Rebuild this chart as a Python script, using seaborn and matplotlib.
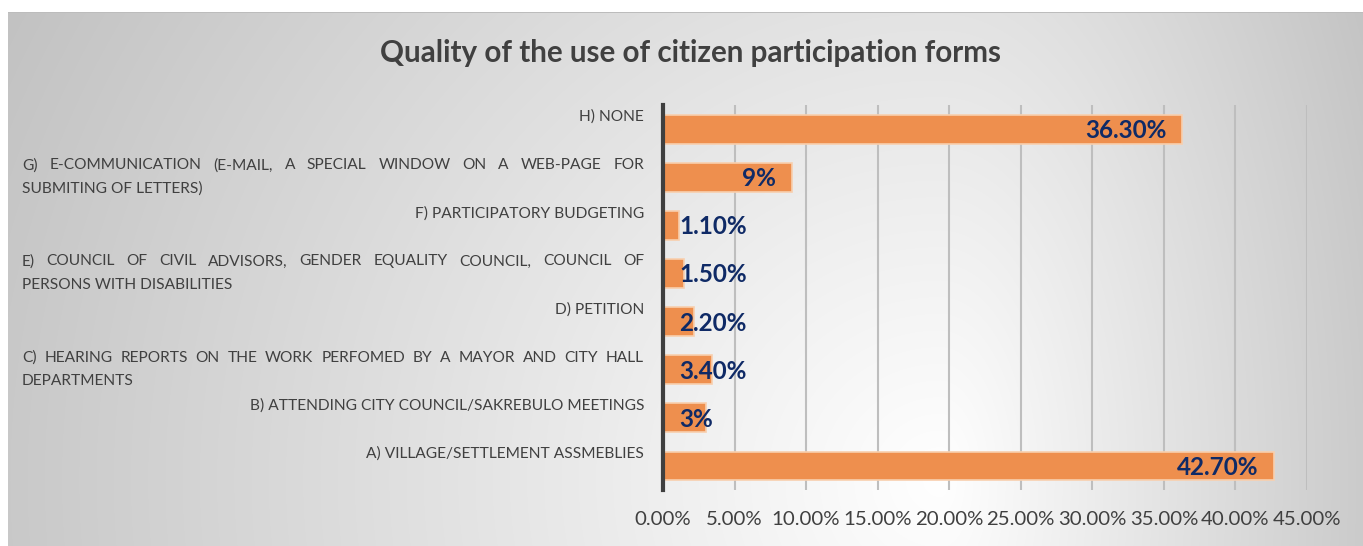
import numpy as np
import pandas as pd
import matplotlib
matplotlib.use("Agg")
import matplotlib.pyplot as plt
import matplotlib.transforms as mtransforms
import seaborn as sns

# ---- data -----------------------------------------------------------------
categories = [
    "A) VILLAGE/SETTLEMENT ASSMEBLIES",
    "B) ATTENDING CITY COUNCIL/SAKREBULO MEETINGS",
    "C) HEARING REPORTS ON THE WORK PERFOMED BY A MAYOR AND CITY HALL\nDEPARTMENTS",
    "D) PETITION",
    "E) COUNCIL OF CIVIL ADVISORS, GENDER EQUALITY COUNCIL, COUNCIL OF\nPERSONS WITH DISABILITIES",
    "F) PARTICIPATORY BUDGETING",
    "G) E-COMMUNICATION (E-MAIL, A SPECIAL WINDOW ON A WEB-PAGE FOR\nSUBMITING OF LETTERS)",
    "H) NONE",
]
shares = [42.7, 3.0, 3.4, 2.2, 1.5, 1.1, 9.0, 36.3]
x_ticks = [0, 5, 10, 15, 20, 25, 30, 35, 40, 45]
title = "Quality of the use of citizen participation forms"

# ---- style ----------------------------------------------------------------
sns.set_theme(style="white")
plt.rcParams["font.family"] = ["Lato", "DejaVu Sans"]

W, H = 1363, 546
DPI = 100
BAR = "#EE8F4E"
NAVY = "#0F2A66"
GREY_TXT = "#404040"

fig = plt.figure(figsize=(W / DPI, H / DPI), dpi=DPI)
fig.patch.set_facecolor("white")

# soft radial backdrop of the chart panel
bg = fig.add_axes([0, 0, 1, 1], zorder=-5)
bg.axis("off")
yy, xx = np.mgrid[0:H, 0:W].astype(float)
dx = xx - 940.0
sx = np.where(dx < 0, 930.0, 440.0)
dy = yy - 480.0
d = np.sqrt((dx / sx) ** 2 + (dy / 900.0) ** 2)
v = np.clip(255 - 54 * d, 190, 255) / 255.0
img = np.ones((H, W, 3))
panel = (xx >= 8) & (yy >= 12)
for c in range(3):
    img[..., c] = np.where(panel, v, 1.0)
img[12, 8:, :] = 0.74
bg.imshow(img, extent=(0, W, H, 0), aspect="auto", interpolation="bilinear")
bg.set_xlim(0, W)
bg.set_ylim(H, 0)

# ---- bars -----------------------------------------------------------------
ax_left, ax_right, ax_top, ax_bottom = 663, 1307, 105, 490
ax = fig.add_axes([ax_left / W, 1 - ax_bottom / H,
                   (ax_right - ax_left) / W, (ax_bottom - ax_top) / H])
ax.patch.set_alpha(0)

df = pd.DataFrame({"category": categories, "share": shares})
order = categories[::-1]
sns.barplot(data=df, x="share", y="category", order=order, orient="h",
            color=BAR, saturation=1, width=0.6, edgecolor="#F8CFAE",
            linewidth=1.2, ax=ax, zorder=3)

ax.set_xlim(0, 45)
ax.set_xticks(x_ticks)
ax.set_xticklabels([f"{t:.2f}%" for t in x_ticks], fontsize=14.7, color=GREY_TXT)
ax.tick_params(axis="x", length=0, pad=15)
ax.set_yticks(range(len(order)))
ax.set_yticklabels([])
ax.tick_params(axis="y", length=0)
ax.set_xlabel("")
ax.set_ylabel("")
ax.grid(axis="x", color="#BEBEBE", linewidth=1.5)
ax.grid(axis="y", visible=False)
ax.set_axisbelow(True)
for side in ("top", "right", "bottom"):
    ax.spines[side].set_visible(False)
ax.spines["left"].set_color("#3F3F3F")
ax.spines["left"].set_linewidth(3)
ax.spines["left"].set_zorder(5)

renderer = fig.canvas.get_renderer()


def text_width(s, **kw):
    t = fig.text(0, 0, s, **kw)
    w = t.get_window_extent(renderer).width
    t.remove()
    return w


# ---- value labels ---------------------------------------------------------
px_per_unit = (ax_right - ax_left) / 45.0
inset = 16 / px_per_unit
val_kw = dict(fontsize=17.5, fontweight="bold", color=NAVY)
for i, cat in enumerate(order):
    val = shares[categories.index(cat)]
    label = f"{val:.0f}%" if float(val).is_integer() else f"{val:.2f}%"
    tw = text_width(label, **val_kw)
    if tw + 32 <= val * px_per_unit:
        ax.text(val - inset, i + 0.03, label, ha="right", va="center", zorder=6, **val_kw)
    else:
        ax.text(inset, i + 0.03, label, ha="left", va="center", zorder=6, **val_kw)

# ---- category labels (justified wrapped lines) -----------------------------
lab_kw = dict(fontsize=11.2, color=GREY_TXT)
lab_left, lab_right = 22, 644
avail = lab_right - lab_left
trans = mtransforms.blended_transform_factory(fig.transFigure, ax.transData)

for i, cat in enumerate(order):
    lines = cat.split("\n")
    for k, ln in enumerate(lines):
        y = i - 0.25 + k * 0.48
        if len(lines) == 1:
            ax.text(lab_right / W, y, ln, ha="right", va="center",
                    transform=trans, **lab_kw)
        elif k < len(lines) - 1:
            words = ln.split(" ")
            widths = [text_width(w_, **lab_kw) for w_ in words]
            gap = (avail - sum(widths)) / max(len(words) - 1, 1)
            x = lab_left
            for w_, wd in zip(words, widths):
                ax.text(x / W, y, w_, ha="left", va="center",
                        transform=trans, **lab_kw)
                x += wd + gap
        else:
            ax.text(lab_left / W, y, ln, ha="left", va="center",
                    transform=trans, **lab_kw)

# ---- title ----------------------------------------------------------------
fig.text(690 / W, 1 - 53 / H, title, ha="center", va="center",
         fontsize=21.3, fontweight="bold", color=GREY_TXT)

fig.savefig("out.png", dpi=DPI)
